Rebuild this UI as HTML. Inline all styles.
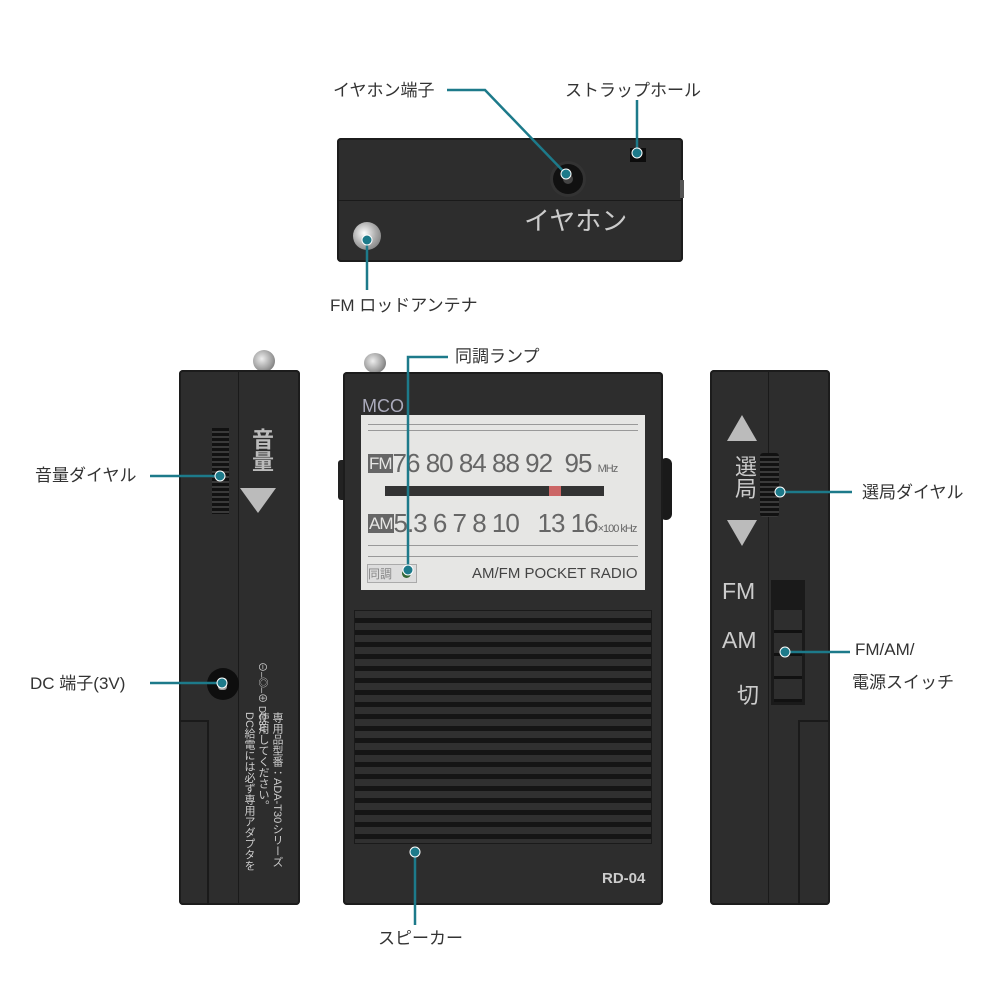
<!DOCTYPE html>
<html><head><meta charset="utf-8"><style>
body{margin:0;width:1000px;height:1000px;background:#fff;position:relative;overflow:hidden;font-family:"Liberation Sans","Noto Sans CJK JP",sans-serif}
.a{position:absolute}
.lbl{position:absolute;font-size:17px;color:#333;white-space:nowrap;line-height:1}
.body{background:#2d2d2d;border-radius:4px;box-shadow:inset 0 0 0 2px #1c1c1c}
.w{color:#ddd}
</style></head><body>

<div class="a body" style="left:337px;top:138px;width:346px;height:124px"></div>
<div class="a" style="left:337px;top:200px;width:346px;height:1px;background:#1a1a1a"></div>
<div class="a" style="left:553px;top:164px;width:30px;height:30px;border-radius:50%;background:#111;box-shadow:0 0 0 3px #333"></div>
<div class="a" style="left:563px;top:174px;width:10px;height:10px;border-radius:50%;background:#444"></div>
<div class="a" style="left:630px;top:148px;width:16px;height:14px;background:#0c0c0c"></div>
<div class="a w" style="left:524px;top:201px;font-size:26px;color:#ccc">イヤホン</div>
<div class="a" style="left:353px;top:222px;width:28px;height:28px;border-radius:50%;background:radial-gradient(circle at 40% 40%,#fff,#aaa 50%,#666)"></div>
<div class="a" style="left:680px;top:180px;width:4px;height:18px;background:#555"></div>

<div class="a" style="left:253px;top:350px;width:22px;height:22px;border-radius:50%;background:radial-gradient(circle at 40% 40%,#eee,#999 60%,#555)"></div>
<div class="a body" style="left:179px;top:370px;width:121px;height:535px"></div>
<div class="a" style="left:238px;top:372px;width:1px;height:531px;background:#1a1a1a"></div>
<div class="a" style="left:179px;top:720px;width:30px;height:185px;border-right:2px solid #1a1a1a;border-top:2px solid #1a1a1a;box-sizing:border-box"></div>
<div class="a" style="left:212px;top:428px;width:17px;height:86px;background:repeating-linear-gradient(#111 0 3px,#3a3a3a 3px 5px)"></div>
<div class="a" style="left:245px;top:428px;font-size:22px;color:#bbb;writing-mode:vertical-rl;font-weight:bold">音量</div>
<div class="a" style="left:246px;top:482px;width:0;height:0;border-left:25px solid #bbb;border-top:18px solid transparent;border-bottom:18px solid transparent;transform:rotate(90deg);transform-origin:12px 18px"></div>
<div class="a" style="left:207px;top:668px;width:32px;height:32px;border-radius:50%;background:#0e0e0e"></div>
<div class="a" style="left:218px;top:678px;width:9px;height:12px;border-radius:3px;background:#999"></div>
<div class="a" style="left:254px;top:662px;font-size:10px;color:#ccc;writing-mode:vertical-rl">⊖–◎–⊕ DC3V</div>
<div class="a" style="left:242px;top:712px;font-size:11px;color:#ccc;writing-mode:vertical-lr;line-height:14px;height:190px">DC給電には必ず専用アダプタを<br>使用してください。<br>専用品型番：ADA-T30シリーズ</div>

<div class="a" style="left:364px;top:353px;width:22px;height:20px;border-radius:50%;background:radial-gradient(circle at 40% 40%,#eee,#999 60%,#555)"></div>
<div class="a" style="left:338px;top:460px;width:8px;height:40px;background:#222;border-radius:3px"></div>
<div class="a" style="left:660px;top:458px;width:12px;height:62px;background:#1a1a1a;border-radius:6px"></div>
<div class="a body" style="left:343px;top:372px;width:320px;height:533px"></div>
<div class="a" style="left:362px;top:396px;font-size:18px;color:#aab">MCO</div>
<div class="a" style="left:361px;top:415px;width:284px;height:175px;background:#e6e6e4"></div>
<div class="a" style="left:368px;top:424px;width:270px;height:5px;border-top:1px solid #999;border-bottom:1px solid #999"></div>
<div class="a" style="left:368px;top:448px;font-size:26px;color:#666;letter-spacing:-1px"><span style="background:#666;color:#e6e6e4;font-size:17px;padding:0 1px;vertical-align:3px">FM</span>76 80 84 88 92 &nbsp;95 <span style="font-size:11px">MHz</span></div>
<div class="a" style="left:385px;top:486px;width:219px;height:10px;background:#333"></div>
<div class="a" style="left:549px;top:486px;width:12px;height:10px;background:#c66"></div>
<div class="a" style="left:368px;top:508px;font-size:26px;color:#666;letter-spacing:-1px"><span style="background:#666;color:#e6e6e4;font-size:17px;padding:0 1px;vertical-align:3px">AM</span>5.3 6 7 8 10 &nbsp;&nbsp;13 16<span style="font-size:11px">×100 kHz</span></div>
<div class="a" style="left:368px;top:545px;width:270px;height:10px;border-top:1px solid #999;border-bottom:1px solid #999"></div>
<div class="a" style="left:367px;top:564px;width:48px;height:17px;border:1px solid #aaa;font-size:12px;color:#888;background:#ddd">同調</div>
<div class="a" style="left:402px;top:569px;width:9px;height:9px;border-radius:50%;background:#363"></div>
<div class="a" style="left:472px;top:565px;font-size:15px;color:#444">AM/FM POCKET RADIO</div>
<div class="a" style="left:354px;top:610px;width:296px;height:232px;background:repeating-linear-gradient(#303030 0 7px,#151515 7px 12px);border:1px solid #1a1a1a"></div>
<div class="a" style="left:602px;top:870px;font-size:15px;color:#ccc;font-weight:bold">RD-04</div>

<div class="a body" style="left:710px;top:370px;width:120px;height:535px"></div>
<div class="a" style="left:768px;top:372px;width:1px;height:531px;background:#1a1a1a"></div>
<div class="a" style="left:798px;top:720px;width:32px;height:185px;border-left:2px solid #1a1a1a;border-top:2px solid #1a1a1a;box-sizing:border-box"></div>
<div class="a" style="left:727px;top:415px;width:0;height:0;border-bottom:26px solid #bbb;border-left:15px solid transparent;border-right:15px solid transparent"></div>
<div class="a" style="left:727px;top:520px;width:0;height:0;border-top:26px solid #bbb;border-left:15px solid transparent;border-right:15px solid transparent"></div>
<div class="a" style="left:728px;top:455px;font-size:22px;color:#ccc;writing-mode:vertical-rl">選局</div>
<div class="a" style="left:760px;top:453px;width:19px;height:64px;background:repeating-linear-gradient(#111 0 3px,#3a3a3a 3px 5px);border-radius:3px"></div>
<div class="a" style="left:722px;top:578px;font-size:23px;color:#ccc">FM</div>
<div class="a" style="left:722px;top:627px;font-size:23px;color:#ccc">AM</div>
<div class="a" style="left:737px;top:678px;font-size:22px;color:#ccc">切</div>
<div class="a" style="left:771px;top:580px;width:34px;height:125px;background:#1a1a1a"></div>
<div class="a" style="left:774px;top:610px;width:28px;height:92px;background:repeating-linear-gradient(#2e2e2e 0 20px,#111 20px 23px)"></div>

<div class="lbl" style="left:333px;top:82px">イヤホン端子</div>
<div class="lbl" style="left:565px;top:82px">ストラップホール</div>
<div class="lbl" style="left:330px;top:297px">FM ロッドアンテナ</div>
<div class="lbl" style="left:455px;top:348px">同調ランプ</div>
<div class="lbl" style="left:35px;top:467px">音量ダイヤル</div>
<div class="lbl" style="left:30px;top:675px">DC 端子(3V)</div>
<div class="lbl" style="left:862px;top:484px">選局ダイヤル</div>
<div class="lbl" style="left:855px;top:641px">FM/AM/</div>
<div class="lbl" style="left:852px;top:674px">電源スイッチ</div>
<div class="lbl" style="left:378px;top:930px">スピーカー</div>

<svg class="a" style="left:0;top:0" width="1000" height="1000">
<g stroke="#1d7a8a" stroke-width="2.5" fill="none">
<polyline points="447,90 485,90 566,174"/>
<line x1="637" y1="100" x2="637" y2="153"/>
<line x1="367" y1="240" x2="367" y2="290"/>
<polyline points="448,357 408,357 408,570"/>
<line x1="150" y1="476" x2="220" y2="476"/>
<line x1="150" y1="683" x2="222" y2="683"/>
<line x1="780" y1="492" x2="852" y2="492"/>
<line x1="785" y1="652" x2="850" y2="652"/>
<line x1="415" y1="852" x2="415" y2="925"/>
</g>
<g fill="#1d7a8a" stroke="#fff" stroke-width="1">
<circle cx="566" cy="174" r="5"/><circle cx="637" cy="153" r="5"/><circle cx="367" cy="240" r="5"/>
<circle cx="408" cy="570" r="5"/><circle cx="220" cy="476" r="5"/><circle cx="222" cy="683" r="5"/>
<circle cx="780" cy="492" r="5"/><circle cx="785" cy="652" r="5"/><circle cx="415" cy="852" r="5"/>
</g>
</svg>
</body></html>
